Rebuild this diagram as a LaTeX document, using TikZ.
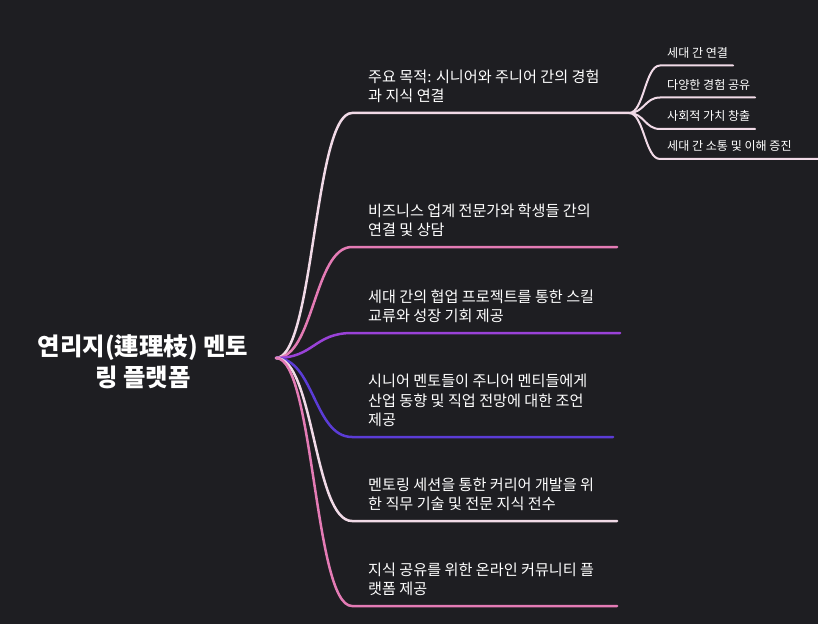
\documentclass[tikz,border=0pt]{standalone}
\usepackage{fontspec}
\setmainfont{Noto Sans CJK KR}
\definecolor{bg}{HTML}{1E1E22}
\definecolor{mmlight}{HTML}{F1DAE7}
\definecolor{mmpink}{HTML}{E47BB5}
\definecolor{mmpurple}{HTML}{9A42D8}
\definecolor{mmindigo}{HTML}{5B3CD6}
\tikzset{
	branch/.style={line width=2.5bp, line cap=round},
	leaf/.style={line width=2bp, line cap=round, mmlight},
	roottxt/.style={text=white, align=center, inner sep=0pt, font=\fontsize{24.5}{31}\selectfont\bfseries},
	txt/.style={text=white, anchor=south west, align=left, inner sep=0pt, font=\fontsize{15.2}{19.5}\selectfont},
	subtxt/.style={text=white, anchor=south west, inner sep=0pt, font=\fontsize{12.1}{14}\selectfont}
}
\begin{document}
\begin{tikzpicture}[x=1bp,y=-1bp]
	%background
	\fill[bg] (0,0) rectangle (818,624);
	\useasboundingbox (0,0) rectangle (818,624);
	
	%root
	\node[roottxt] (root) at (143,362) {연리지(連理枝) 멘토\\링 플랫폼};
	\coordinate (r) at (276,358);
	
	%branches
	\coordinate (b1) at (352,113); \coordinate (e1) at (629,113);
	\coordinate (b2) at (352,247); \coordinate (e2) at (617,247);
	\coordinate (b3) at (352,333); \coordinate (e3) at (620,333);
	\coordinate (b4) at (352,437); \coordinate (e4) at (613,437);
	\coordinate (b5) at (352,521); \coordinate (e5) at (617,521);
	\coordinate (b6) at (352,606); \coordinate (e6) at (617,606);
	\draw[branch, mmlight] (r) .. controls +(38,0) and +(-38,0) .. (b1) -- (e1);
	\draw[branch, mmpink] (r) .. controls +(38,0) and +(-38,0) .. (b2) -- (e2);
	\draw[branch, mmpurple] (r) .. controls +(38,0) and +(-38,0) .. (b3) -- (e3);
	\draw[branch, mmindigo] (r) .. controls +(38,0) and +(-38,0) .. (b4) -- (e4);
	\draw[branch, mmlight] (r) .. controls +(38,0) and +(-38,0) .. (b5) -- (e5);
	\draw[branch, mmpink] (r) .. controls +(38,0) and +(-38,0) .. (b6) -- (e6);
	
	\node[txt] (t1) at (368,103) {주요 목적: 시니어와 주니어 간의 경험\\과 지식 연결};
	\node[txt] (t2) at (368,237) {비즈니스 업계 전문가와 학생들 간의\\연결 및 상담};
	\node[txt] (t3) at (368,323) {세대 간의 협업 프로젝트를 통한 스킬\\교류와 성장 기회 제공};
	\node[txt] (t4) at (368,427) {시니어 멘토들이 주니어 멘티들에게\\산업 동향 및 직업 전망에 대한 조언\\제공};
	\node[txt] (t5) at (368,511) {멘토링 세션을 통한 커리어 개발을 위\\한 직무 기술 및 전문 지식 전수};
	\node[txt] (t6) at (368,596) {지식 공유를 위한 온라인 커뮤니티 플\\랫폼 제공};
	
	%sub branches
	\foreach \i/\y/\xe/\t in {1/65.5/733/세대 간 연결, 2/97.5/755/다양한 경험 공유, 3/129/755/사회적 가치 창출, 4/159/822/세대 간 소통 및 이해 증진}{
		\coordinate (s\i) at (660,\y);
		\coordinate (f\i) at (\xe,\y);
		\draw[leaf] (e1) .. controls +(15,0) and +(-15,0) .. (s\i) -- (f\i);
		\node[subtxt] (u\i) at (667,\y-7) {\t};
	}
\end{tikzpicture}
\end{document}
